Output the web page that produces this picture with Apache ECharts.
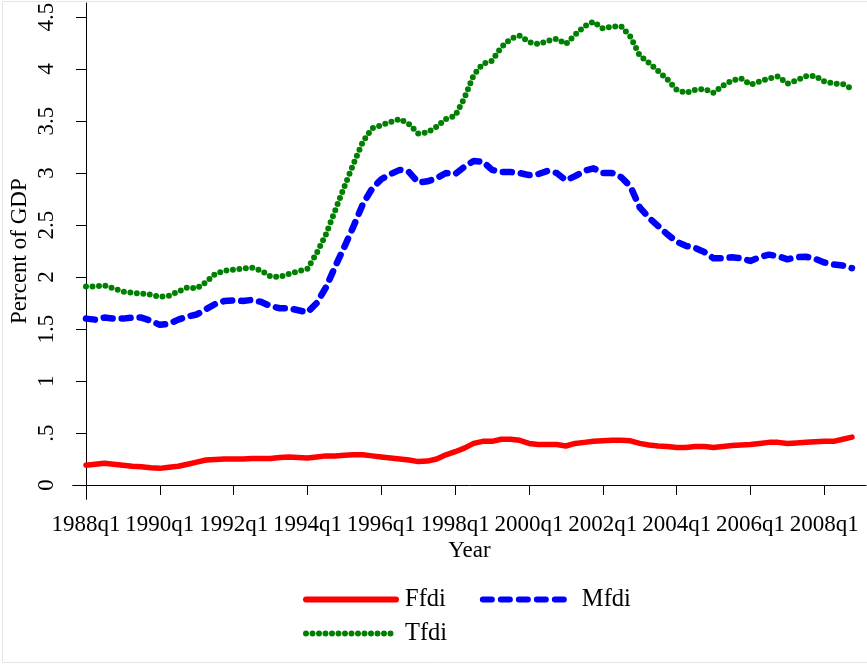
<!DOCTYPE html>
<html><head><meta charset="utf-8">
<script src="https://cdn.jsdelivr.net/npm/echarts@6/dist/echarts.min.js"></script>
<style>html,body{margin:0;padding:0;background:#fff}#c{width:867px;height:665px}</style>
</head><body><div id="c"></div>
<script>
// Quarter index 0 = 1988q1 ... 83 = 2008q4
const xTickIndex = [0, 8, 16, 24, 32, 40, 48, 56, 64, 72, 80];
const xTickLabels = ['1988q1','1990q1','1992q1','1994q1','1996q1','1998q1','2000q1','2002q1','2004q1','2006q1','2008q1'];
const yTicks = [0, 0.5, 1, 1.5, 2, 2.5, 3, 3.5, 4, 4.5];
const yTickLabels = ['0', '.5', '1', '1.5', '2', '2.5', '3', '3.5', '4', '4.5'];
const seriesNames = ['Ffdi', 'Mfdi', 'Tfdi'];

const ffdi = [0.19,0.20,0.21,0.20,0.19,0.18,0.175,0.165,0.16,0.17,0.18,0.20,0.22,0.24,0.245,0.25,
  0.25,0.25,0.255,0.255,0.255,0.265,0.27,0.265,0.26,0.27,0.28,0.28,0.285,0.29,0.29,0.28,
  0.27,0.26,0.25,0.24,0.225,0.23,0.25,0.29,0.32,0.355,0.40,0.42,0.42,0.44,0.44,0.43,
  0.40,0.39,0.39,0.39,0.375,0.40,0.41,0.42,0.425,0.43,0.43,0.425,0.40,0.385,0.375,0.37,
  0.36,0.36,0.37,0.37,0.36,0.37,0.38,0.385,0.39,0.40,0.41,0.41,0.40,0.405,0.41,0.415,
  0.42,0.42,0.44,0.46];
const mfdi = [1.60,1.59,1.61,1.60,1.60,1.61,1.61,1.58,1.54,1.55,1.59,1.62,1.64,1.69,1.74,1.77,
  1.775,1.77,1.78,1.76,1.72,1.70,1.70,1.68,1.66,1.75,1.90,2.10,2.29,2.49,2.70,2.85,
  2.94,2.99,3.03,3.01,2.91,2.92,2.95,3.00,2.99,3.06,3.115,3.11,3.03,3.01,3.01,3.00,
  2.98,2.99,3.02,3.00,2.93,2.97,3.02,3.045,3.00,3.00,2.96,2.87,2.67,2.57,2.49,2.41,
  2.34,2.30,2.28,2.24,2.18,2.18,2.19,2.18,2.155,2.19,2.215,2.20,2.17,2.19,2.195,2.175,
  2.14,2.12,2.11,2.085];
const tfdi = [1.91,1.91,1.92,1.89,1.86,1.85,1.84,1.83,1.81,1.82,1.86,1.90,1.89,1.95,2.03,2.06,
  2.07,2.08,2.09,2.06,2.005,2.00,2.03,2.055,2.08,2.23,2.41,2.64,2.87,3.09,3.30,3.43,
  3.46,3.49,3.52,3.47,3.38,3.39,3.445,3.52,3.55,3.72,3.94,4.05,4.08,4.21,4.29,4.32,
  4.26,4.24,4.27,4.29,4.24,4.33,4.41,4.455,4.39,4.41,4.41,4.31,4.13,4.06,3.98,3.90,
  3.80,3.77,3.80,3.81,3.77,3.84,3.89,3.91,3.85,3.88,3.91,3.93,3.86,3.89,3.93,3.935,
  3.88,3.86,3.855,3.81];

const pairs = arr => arr.map((v, i) => [i, v]);
const FONT = 'Liberation Serif';

const chart = echarts.init(document.getElementById('c'), null, {renderer: 'canvas'});
chart.setOption({
  backgroundColor: '#ffffff',
  animation: false,
  graphic: [{
    type: 'rect', shape: {x: 2.5, y: 1.5, width: 866, height: 661},
    style: {fill: 'none', stroke: '#e6e6e6', lineWidth: 1}, silent: true, z: -1
  }],
  grid: {left: 72.7, right: 1, top: 3, bottom: 165.7, containLabel: false, outerBoundsMode: 'none'},
  xAxis: {
    type: 'value', min: -1.44, max: 84.52,
    name: 'Year', nameLocation: 'middle', nameGap: 40, nameMoveOverlap: false,
    nameTextStyle: {fontFamily: FONT, fontSize: 23, color: '#000'},
    axisLine: {show: true, lineStyle: {color: '#000', width: 1}},
    axisTick: {show: true, length: 10, customValues: xTickIndex, lineStyle: {color: '#000'}},
    axisLabel: {
      customValues: xTickIndex, margin: 14, fontFamily: FONT, fontSize: 23, color: '#000',
      formatter: v => xTickLabels[xTickIndex.indexOf(Math.round(v))] || ''
    },
    splitLine: {show: false}
  },
  yAxis: {
    type: 'value', min: -0.1375, max: 4.635,
    name: 'Percent of GDP', nameLocation: 'middle', nameGap: 41, nameMoveOverlap: false,
    nameTextStyle: {fontFamily: FONT, fontSize: 23, color: '#000'},
    axisLine: {show: true, lineStyle: {color: '#000', width: 1}},
    axisTick: {show: true, length: 10, customValues: yTicks, lineStyle: {color: '#000'}},
    axisLabel: {
      customValues: yTicks, rotate: 90, margin: 14, fontFamily: FONT, fontSize: 23, color: '#000',
      formatter: v => { const k = yTicks.findIndex(t => Math.abs(t - v) < 1e-6); return k >= 0 ? yTickLabels[k] : ''; }
    },
    splitLine: {show: false}
  },
  legend: [{
    data: [seriesNames[0], seriesNames[1]], left: 303, top: 587, orient: 'horizontal', padding: 0,
    itemWidth: 90, itemHeight: 24, itemGap: 34,
    itemStyle: {opacity: 0},
    lineStyle: {width: 6, cap: 'round'},
    textStyle: {fontFamily: FONT, fontSize: 24.5, color: '#000', padding: [0, 0, 0, 4]}
  }, {
    data: [seriesNames[2]], left: 303, top: 621, orient: 'horizontal', padding: 0,
    itemWidth: 90, itemHeight: 24,
    itemStyle: {opacity: 0},
    lineStyle: {width: 6, cap: 'round'},
    textStyle: {fontFamily: FONT, fontSize: 24.5, color: '#000', padding: [0, 0, 0, 4]}
  }],
  series: [{
    name: seriesNames[0], type: 'line', data: pairs(ffdi), symbol: 'none', smooth: false,
    lineStyle: {color: '#ff0000', width: 5.5, cap: 'round', join: 'round'},
    itemStyle: {color: '#ff0000'}, z: 3
  }, {
    name: seriesNames[1], type: 'line', data: pairs(mfdi), symbol: 'none', smooth: false,
    lineStyle: {color: '#0000ff', width: 6.5, type: [9, 9], cap: 'round', join: 'round'},
    itemStyle: {color: '#0000ff'}, z: 2
  }, {
    name: seriesNames[2], type: 'line', data: pairs(tfdi), symbol: 'none', smooth: false,
    lineStyle: {color: '#008000', width: 6, type: [0, 6.5], cap: 'round', join: 'round'},
    itemStyle: {color: '#008000'}, z: 1
  }]
});
</script></body></html>
